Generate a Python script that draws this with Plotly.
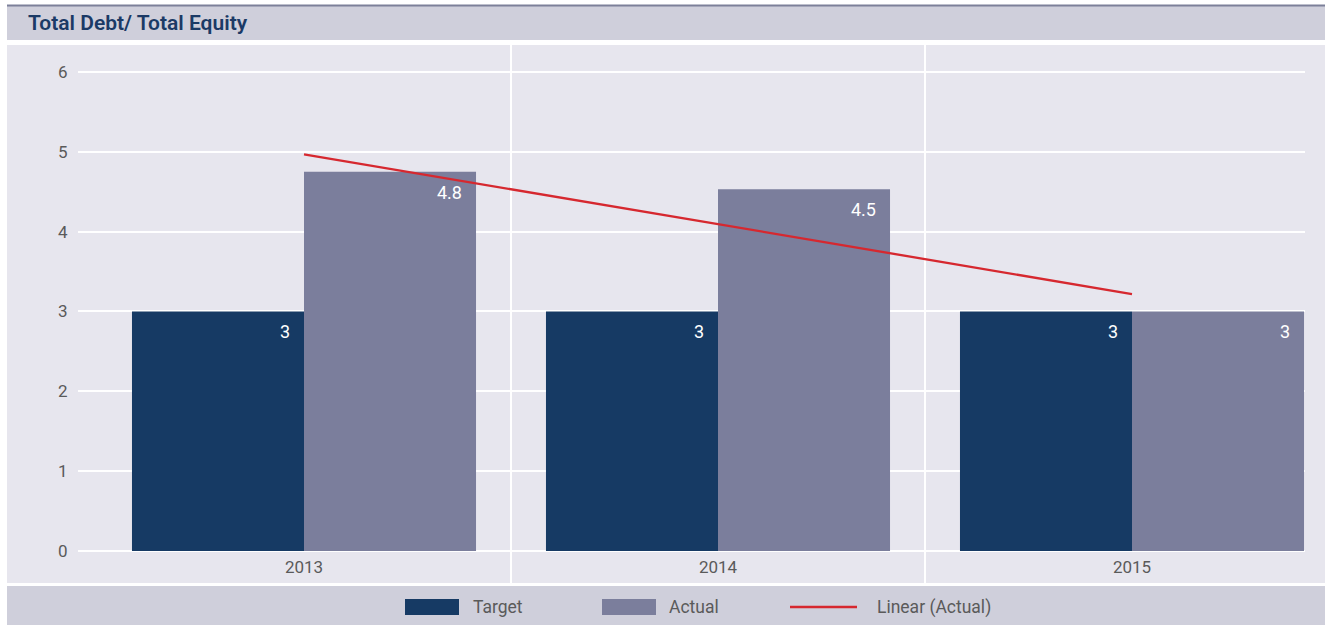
import numpy as np
import plotly.graph_objects as go

# ---- data ----
years = ["2013", "2014", "2015"]
target = [3.0, 3.0, 3.0]
actual = [4.75, 4.53, 3.0]
target_labels = ["3", "3", "3"]
actual_labels = ["4.8", "4.5", "3"]
series_names = ["Target", "Actual", "Linear (Actual)"]
title_text = "Total Debt/ Total Equity"

# ---- styles ----
C_TARGET = "#163A64"
C_ACTUAL = "#7B7E9C"
C_TREND = "#D6282F"
C_PANEL = "#E7E6EE"
C_BAND = "#CFCFDB"
C_TITLE = "#1B3A66"
C_TICK = "#5A5A5A"
FONT = "Roboto"

W, H = 1325, 625
L, R, T, B = 78, 20, 56, 74
PW, PH = W - L - R, H - T - B

def px(xp):
    return (xp - L) / PW

def py(yp):
    return (H - B - yp) / PH

xs = np.arange(len(years))
bw = 0.4155

fig = go.Figure()
fig.add_trace(go.Bar(x=xs, y=target, offset=-bw, width=bw, marker_color=C_TARGET,
                     marker_line_width=0, name=series_names[0], showlegend=False))
fig.add_trace(go.Bar(x=xs, y=actual, offset=0, width=bw, marker_color=C_ACTUAL,
                     marker_line_width=0, name=series_names[1], showlegend=False))

slope, intercept = np.polyfit(xs, actual, 1)
fig.add_trace(go.Scatter(x=xs, y=slope * xs + intercept, mode="lines",
                         line=dict(color=C_TREND, width=2.3), name=series_names[2],
                         showlegend=False, hoverinfo="skip"))

annotations = []
# data labels (inside end, right aligned)
for i in range(len(years)):
    annotations.append(dict(x=xs[i], y=target[i], xref="x", yref="y", text=target_labels[i],
                            showarrow=False, xanchor="right", yanchor="top", xshift=-12, yshift=-8,
                            font=dict(family=FONT, size=18, color="white")))
    annotations.append(dict(x=xs[i] + bw, y=actual[i], xref="x", yref="y", text=actual_labels[i],
                            showarrow=False, xanchor="right", yanchor="top", xshift=-12, yshift=-8,
                            font=dict(family=FONT, size=18, color="white")))

# title
annotations.append(dict(x=px(26), y=py(23), xref="paper", yref="paper", text=title_text,
                        showarrow=False, xanchor="left", yanchor="middle",
                        font=dict(family=FONT, size=21, color=C_TITLE, weight=600)))

shapes = []
# background bands
shapes.append(dict(type="rect", xref="paper", yref="paper", x0=px(7), x1=px(1325),
                   y0=py(6), y1=py(40), fillcolor=C_BAND, line_width=0, layer="below"))
shapes.append(dict(type="line", xref="paper", yref="paper", x0=px(7), x1=px(1325),
                   y0=py(5.5), y1=py(5.5), line=dict(color="#7C8099", width=2), layer="below"))
shapes.append(dict(type="rect", xref="paper", yref="paper", x0=px(7), x1=px(1325),
                   y0=py(45), y1=py(583), fillcolor=C_PANEL, line_width=0, layer="below"))
shapes.append(dict(type="rect", xref="paper", yref="paper", x0=px(7), x1=px(1325),
                   y0=py(586), y1=py(625), fillcolor=C_BAND, line_width=0, layer="below"))
# category separators
for xv in [0.5, 1.5]:
    shapes.append(dict(type="line", xref="x", yref="paper", x0=xv, x1=xv,
                       y0=py(583), y1=py(45), line=dict(color="white", width=2), layer="below"))

# legend (manual, large swatches)
ly = 607
shapes.append(dict(type="rect", xref="paper", yref="paper", x0=px(405), x1=px(459),
                   y0=py(615), y1=py(599), fillcolor=C_TARGET, line_width=0))
shapes.append(dict(type="rect", xref="paper", yref="paper", x0=px(602), x1=px(656),
                   y0=py(615), y1=py(599), fillcolor=C_ACTUAL, line_width=0))
shapes.append(dict(type="line", xref="paper", yref="paper", x0=px(790), x1=px(857),
                   y0=py(ly), y1=py(ly), line=dict(color=C_TREND, width=2.5)))
for xp, name in zip([471, 667, 875], series_names):
    annotations.append(dict(x=px(xp), y=py(ly), xref="paper", yref="paper", text=name,
                            showarrow=False, xanchor="left", yanchor="middle",
                            font=dict(family=FONT, size=17.5, color=C_TICK)))

fig.update_layout(
    width=W, height=H,
    margin=dict(l=L, r=R, t=T, b=B, pad=0),
    paper_bgcolor="white",
    plot_bgcolor="rgba(0,0,0,0)",
    barmode="overlay",
    showlegend=False,
    shapes=shapes,
    annotations=annotations,
    font=dict(family=FONT, color=C_TICK),
    xaxis=dict(range=[(78 - 304) / 414, (1305 - 304) / 414], tickvals=list(xs), ticktext=years,
               showgrid=False, zeroline=False, showline=False,
               ticks="outside", ticklen=1, tickcolor="rgba(0,0,0,0)",
               tickfont=dict(family=FONT, size=17, color=C_TICK), fixedrange=True),
    yaxis=dict(range=[0, 6.2], tickvals=[0, 1, 2, 3, 4, 5, 6],
               showgrid=True, gridcolor="white", gridwidth=2,
               zeroline=True, zerolinecolor="white", zerolinewidth=2, showline=False,
               ticks="outside", ticklen=6, tickcolor="rgba(0,0,0,0)",
               tickfont=dict(family=FONT, size=17, color=C_TICK), fixedrange=True),
)

fig.write_html("out.html", config={"displayModeBar": False},
               post_script="document.body.style.margin='0px';document.body.style.overflow='hidden';")
